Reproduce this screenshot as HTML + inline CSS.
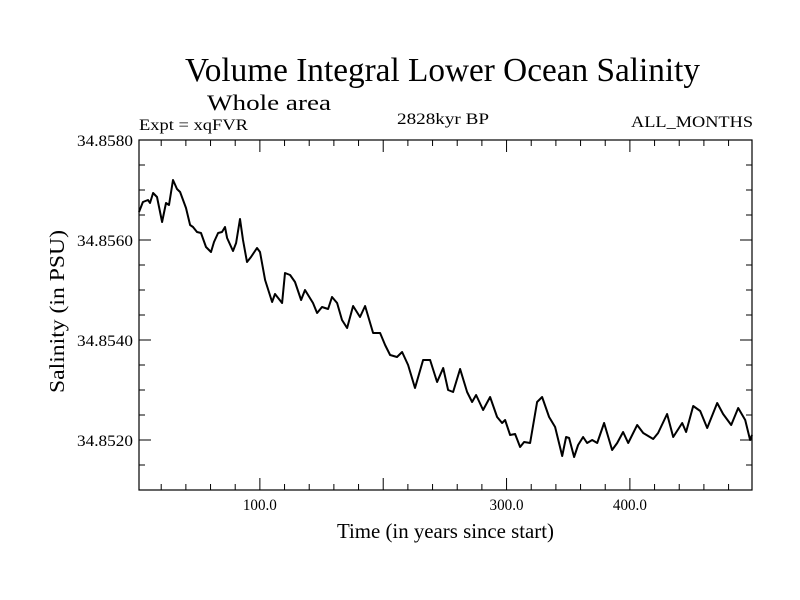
<!DOCTYPE html>
<html><head><meta charset="utf-8"><style>
html,body{margin:0;padding:0;background:#fff;}
svg{display:block;font-family:"Liberation Serif",serif;}
</style></head><body>
<svg id="chart" width="800" height="600" viewBox="0 0 800 600">
<text x="185" y="81" font-size="34" textLength="515" lengthAdjust="spacingAndGlyphs">Volume Integral Lower Ocean Salinity</text>
<text x="207" y="110" font-size="22" textLength="124" lengthAdjust="spacingAndGlyphs">Whole area</text>
<text x="139" y="130" font-size="16" textLength="109" lengthAdjust="spacingAndGlyphs">Expt = xqFVR</text>
<text x="397" y="124" font-size="16" textLength="92" lengthAdjust="spacingAndGlyphs">2828kyr BP</text>
<text x="631" y="127" font-size="16" textLength="122" lengthAdjust="spacingAndGlyphs">ALL_MONTHS</text>
<text x="337" y="538" font-size="21" textLength="217" lengthAdjust="spacingAndGlyphs">Time (in years since start)</text>
<text transform="translate(64,393) rotate(-90)" font-size="21" textLength="163" lengthAdjust="spacingAndGlyphs">Salinity (in PSU)</text>
<g id="axes"></g>
<path id="series" fill="none" stroke="#000" stroke-width="2" stroke-linejoin="round"/>
<rect x="139" y="140" width="613" height="350" fill="none" stroke="#000" stroke-width="1.2"/>
</svg>
<script>
const years=[2,5.2,9.3,10.9,13.4,16.6,20.7,23.9,26.3,29.6,32.8,35.3,40.1,43.4,45.8,49.0,52.3,56.3,60.4,62.8,66.1,69.3,71.7,73.4,78.2,80.7,83.9,86.3,89.6,92.8,97.7,100.1,104.2,109.9,112.3,118.0,120.4,124.5,128.5,133.4,136.6,143.1,146.4,150.4,155.3,158.5,162.6,166.6,170.7,175.6,181.2,185.3,191.8,197.5,201.5,205.6,211.2,215.3,220.2,225.8,232.3,238.0,243.7,248.6,252.6,256.7,262.3,268.0,272.1,275.3,281.0,286.7,292.3,296.4,298.8,302.9,306.9,311.0,314.2,319.1,324.8,328.8,334.5,339.4,345.1,348.3,350.7,354.8,358.0,362.1,365.3,369.4,373.5,379.1,385.6,389.7,394.5,398.6,405.9,410.8,418.9,422.9,430.2,435.1,442.4,445.6,451.3,457.0,462.7,470.8,475.6,482.1,487.8,493.5,497.5,499];
const salinity=[34.85656,34.85676,34.8568,34.85674,34.85694,34.85686,34.85636,34.85674,34.8567,34.8572,34.85702,34.85696,34.85664,34.8563,34.85626,34.85616,34.85614,34.85586,34.85576,34.85596,34.85614,34.85616,34.85626,34.85604,34.85578,34.85594,34.85642,34.856,34.85556,34.85566,34.85584,34.85576,34.8552,34.85476,34.85492,34.85474,34.85534,34.8553,34.85516,34.8548,34.855,34.85474,34.85454,34.85466,34.85462,34.85486,34.85474,34.8544,34.85424,34.85468,34.85446,34.85468,34.85414,34.85414,34.8539,34.8537,34.85366,34.85376,34.8535,34.85304,34.8536,34.8536,34.85316,34.85344,34.853,34.85296,34.85342,34.85296,34.85276,34.8529,34.8526,34.85286,34.85246,34.85234,34.8524,34.8521,34.85212,34.85186,34.85196,34.85194,34.85276,34.85286,34.85246,34.85226,34.85168,34.85206,34.85204,34.85166,34.8519,34.85206,34.85194,34.852,34.85194,34.85234,34.8518,34.85194,34.85216,34.85194,34.8523,34.85214,34.85202,34.85214,34.85252,34.85206,34.85234,34.85216,34.85268,34.85258,34.85224,34.85274,34.85252,34.8523,34.85264,34.8524,34.852,34.8521];
const xTickLabels=["100.0","300.0","400.0"];
const xTickValues=[100,300,400];
const yTickValues=[34.852,34.854,34.856,34.858];
const yTickLabels=["34.8520","34.8540","34.8560","34.8580"];
const X0=139,X1=752,Y0=140,Y1=490,xmin=2,xmax=499,ymin=34.851,ymax=34.858;
const xs=v=>X0+(v-xmin)/(xmax-xmin)*(X1-X0);
const ys=v=>Y1-(v-ymin)/(ymax-ymin)*(Y1-Y0);
const NS="http://www.w3.org/2000/svg";
const axes=document.getElementById('axes');
function ln(x1,y1,x2,y2){const l=document.createElementNS(NS,'line');l.setAttribute('x1',x1);l.setAttribute('y1',y1);l.setAttribute('x2',x2);l.setAttribute('y2',y2);l.setAttribute('stroke','#000');l.setAttribute('stroke-width','1');


axes.appendChild(l);}
function tx(x,y,s,anchor,name,w){const t=document.createElementNS(NS,'text');t.setAttribute('x',x);t.setAttribute('y',y);t.setAttribute('font-size','16');t.setAttribute('text-anchor',anchor);t.setAttribute('textLength',w);t.setAttribute('lengthAdjust','spacingAndGlyphs');t.textContent=s;


axes.appendChild(t);}
for(let v=20;v<xmax;v+=20){const x=xs(v);const L=(v%100===0)?12:6;ln(x,Y1,x,Y1-L);ln(x,Y0,x,Y0+L);}
for(let v=34.8515;v<ymax+1e-7;v+=0.0005){const y=ys(v);const major=Math.abs(Math.round(v/0.002)*0.002-v)<1e-7;const L=major?12:6;ln(X0,y,X0+L,y);ln(X1,y,X1-L,y);}
xTickValues.forEach((v,i)=>tx(xs(v),510,xTickLabels[i],'middle','x-tick-label',34));
yTickValues.forEach((v,i)=>tx(133,ys(v)+6,yTickLabels[i],'end','y-tick-label',56));
document.getElementById('series').setAttribute('d',years.map((v,i)=>(i?'L':'M')+xs(v).toFixed(1)+','+ys(salinity[i]).toFixed(1)).join(''));
</script>
</body></html>
